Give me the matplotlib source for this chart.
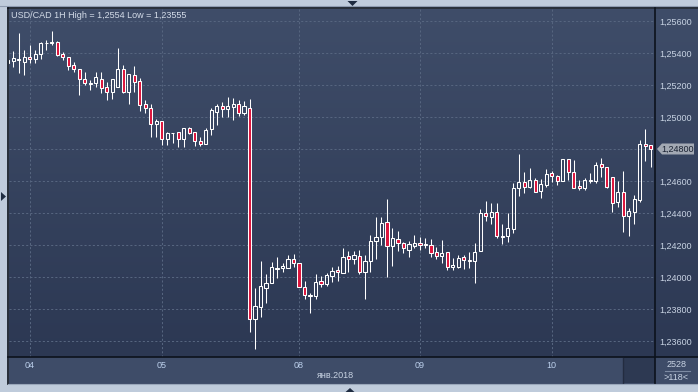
import numpy as np
import matplotlib
matplotlib.use("Agg")
import matplotlib.pyplot as plt
from matplotlib.transforms import Affine2D
from matplotlib.patches import Rectangle, Polygon
from matplotlib.lines import Line2D
from matplotlib.ticker import FuncFormatter

plt.rcParams['font.family'] = ['Liberation Sans', 'DejaVu Sans']

W, H = 698, 392

title = "USD/CAD 1H High = 1,2554 Low = 1,23555"

open_ = [1.25338, 1.2535, 1.25356, 1.25344, 1.25375, 1.25363, 1.25394, 1.2546, 1.25463, 1.25469,
         1.25394, 1.25375, 1.25325, 1.253, 1.25238, 1.25206, 1.25213, 1.25238, 1.25188, 1.25156,
         1.25188, 1.253, 1.25156, 1.25263, 1.25225, 1.25081, 1.25056, 1.24956, 1.24975, 1.24863,
         1.24897, 1.24906, 1.24863, 1.24931, 1.24906, 1.2485, 1.24831, 1.24925, 1.25031, 1.25069,
         1.2505, 1.25063, 1.25081, 1.25025, 1.25056, 1.23738, 1.23813, 1.23931, 1.23963, 1.24053,
         1.24056, 1.24056, 1.24113, 1.24088, 1.23938, 1.23884, 1.23881, 1.23975, 1.23956, 1.24006,
         1.24044, 1.24025, 1.24131, 1.24113, 1.24131, 1.24031, 1.241, 1.24225, 1.2425, 1.24344,
         1.24194, 1.24238, 1.24213, 1.24169, 1.24194, 1.24213, 1.24203, 1.242, 1.24156, 1.24131,
         1.24156, 1.24063, 1.24063, 1.24125, 1.24103, 1.241, 1.24163, 1.244, 1.24375, 1.24406,
         1.24253, 1.24256, 1.243, 1.24556, 1.24594, 1.24563, 1.24606, 1.24538, 1.24575, 1.2465,
         1.24631, 1.246, 1.24738, 1.24656, 1.24569, 1.24556, 1.24603, 1.246, 1.24706, 1.24688,
         1.24625, 1.24469, 1.24531, 1.24381, 1.24406, 1.24481, 1.24831, 1.24825]

close = [1.25356, 1.25369, 1.25363, 1.25375, 1.25363, 1.25394, 1.25463, 1.25463, 1.25469, 1.25388,
         1.25375, 1.25319, 1.253, 1.25238, 1.25213, 1.2521, 1.2525, 1.25181, 1.25156, 1.25238,
         1.253, 1.25156, 1.25269, 1.25219, 1.25075, 1.25056, 1.24956, 1.24975, 1.24863, 1.249,
         1.249, 1.24863, 1.24931, 1.249, 1.2485, 1.24831, 1.24919, 1.25044, 1.25069, 1.2505,
         1.25069, 1.25081, 1.25025, 1.25069, 1.23738, 1.23819, 1.23944, 1.23963, 1.24063, 1.24056,
         1.24069, 1.24113, 1.24088, 1.23938, 1.23888, 1.23888, 1.23969, 1.23956, 1.24013, 1.24038,
         1.24031, 1.24125, 1.24113, 1.24138, 1.24031, 1.241, 1.24225, 1.2425, 1.24338, 1.24194,
         1.24244, 1.24213, 1.24181, 1.24206, 1.24213, 1.242, 1.24206, 1.2415, 1.24131, 1.2415,
         1.24063, 1.24075, 1.24119, 1.24106, 1.24106, 1.24156, 1.244, 1.24381, 1.24406, 1.24256,
         1.24256, 1.24306, 1.24556, 1.24594, 1.24563, 1.24606, 1.24531, 1.24581, 1.24644, 1.24631,
         1.246, 1.24738, 1.24656, 1.24556, 1.24556, 1.24606, 1.24606, 1.247, 1.24688, 1.24563,
         1.24463, 1.24531, 1.24381, 1.24413, 1.24488, 1.24831, 1.24819, 1.248]

high = [1.25369, 1.25413, 1.25525, 1.25419, 1.2545, 1.25419, 1.25469, 1.25481, 1.2554, 1.25475,
        1.25406, 1.25375, 1.25344, 1.253, 1.25281, 1.25231, 1.25281, 1.25281, 1.25219, 1.25238,
        1.25431, 1.25325, 1.25269, 1.25319, 1.25244, 1.25106, 1.25081, 1.24988, 1.24975, 1.24906,
        1.249, 1.24906, 1.24931, 1.24938, 1.24906, 1.24875, 1.24931, 1.25056, 1.25081, 1.25094,
        1.25125, 1.25119, 1.25106, 1.251, 1.25113, 1.23931, 1.241, 1.24019, 1.24094, 1.24125,
        1.24088, 1.24138, 1.24144, 1.24088, 1.23975, 1.239, 1.24019, 1.24006, 1.24025, 1.24063,
        1.24069, 1.24181, 1.24163, 1.24163, 1.24169, 1.24138, 1.24263, 1.24375, 1.24375, 1.24488,
        1.24306, 1.24288, 1.24219, 1.24225, 1.24263, 1.2425, 1.24244, 1.24238, 1.24188, 1.24231,
        1.24156, 1.24119, 1.24138, 1.24138, 1.24156, 1.24213, 1.24425, 1.24475, 1.24463, 1.24463,
        1.24331, 1.244, 1.24588, 1.24769, 1.24656, 1.24681, 1.24619, 1.24613, 1.24675, 1.24663,
        1.24638, 1.24738, 1.24738, 1.24731, 1.24606, 1.24619, 1.2465, 1.24719, 1.24744, 1.24688,
        1.24625, 1.246, 1.24663, 1.24431, 1.24513, 1.24856, 1.24925, 1.24825]

low = [1.25325, 1.25313, 1.25275, 1.25263, 1.25338, 1.25338, 1.25363, 1.25419, 1.2545, 1.25381,
       1.25356, 1.25294, 1.25281, 1.25138, 1.252, 1.25169, 1.25188, 1.2515, 1.25106, 1.25113,
       1.25188, 1.2515, 1.25081, 1.25156, 1.25038, 1.25025, 1.24875, 1.24875, 1.24825, 1.24825,
       1.24838, 1.24813, 1.24813, 1.24894, 1.24819, 1.24819, 1.24831, 1.24888, 1.2495, 1.25,
       1.25, 1.24981, 1.25006, 1.25013, 1.23656, 1.2355, 1.2375, 1.23838, 1.23963, 1.23994,
       1.24031, 1.24056, 1.24063, 1.23938, 1.23863, 1.23775, 1.23863, 1.23938, 1.23944, 1.23969,
       1.23975, 1.24025, 1.24031, 1.24081, 1.24019, 1.23863, 1.24031, 1.24113, 1.242, 1.24,
       1.24069, 1.24163, 1.2415, 1.24125, 1.24181, 1.24169, 1.24181, 1.24125, 1.24113, 1.24088,
       1.24044, 1.24044, 1.24056, 1.2405, 1.24056, 1.23963, 1.24163, 1.2435, 1.24331, 1.24244,
       1.24206, 1.24219, 1.24275, 1.24506, 1.24525, 1.24556, 1.24531, 1.24494, 1.24563, 1.24594,
       1.24575, 1.246, 1.24606, 1.24556, 1.24544, 1.24544, 1.24588, 1.24588, 1.24625, 1.24556,
       1.24406, 1.24438, 1.24281, 1.24256, 1.24331, 1.24469, 1.24725, 1.24688]

day_labels = ["04", "05", "08", "09", "10"]
day_positions = [4, 28, 53, 75, 99]
price_ticks = [1.236, 1.238, 1.240, 1.242, 1.244, 1.246, 1.248, 1.250, 1.252, 1.254, 1.256]
month_label = "янв.2018"
bars_total = "2528"
bars_visible = ">118<"

# ---------------------------------------------------------------
fig = plt.figure(figsize=(W / 100, H / 100), dpi=100, facecolor="#bfcbdb")
pix = Affine2D().scale(1 / W, -1 / H).translate(0, 1) + fig.transFigure


def fax(x0, y0, x1, y1):
    return [x0 / W, 1 - y1 / H, (x1 - x0) / W, (y1 - y0) / H]


# bottom date bar (drawn below the axes so tick labels stay visible)
fig.patches.append(Rectangle((8.5, 357), 698 - 8.5, 384 - 357, transform=pix,
                             facecolor="#3e4c68", edgecolor="none", zorder=-2))
fig.patches.append(Rectangle((623.5, 357.5), 655 - 623.5, 383.5 - 357.5, transform=pix,
                             facecolor="#2d3952", edgecolor="none", zorder=-1.5))
fig.lines.append(Line2D([623, 623], [358, 383.5], transform=pix, color="#232c40", lw=1,
                        zorder=-1))

# gradient background for plot + price scale
bg = fig.add_axes(fax(8.5, 8.5, 698, 357))
bg.set_zorder(-1)
top_c = np.array([0x3f, 0x4d, 0x69]) / 255
bot_c = np.array([0x2c, 0x38, 0x53]) / 255
t = np.linspace(0, 1, 256)[:, None, None]
grad = top_c[None, None, :] * (1 - t) + bot_c[None, None, :] * t
bg.imshow(grad, aspect="auto", extent=[0, 1, 0, 1], interpolation="bilinear")
bg.set_axis_off()

ax = fig.add_axes(fax(8.5, 8.5, 655, 357))
ax.patch.set_alpha(0)
ax.set_xlim(0.127, 117.78)
ax.set_ylim(1.2350, 1.25678)

o = np.array(open_)
c = np.array(close)
hi = np.array(high)
lo = np.array(low)
x = np.arange(len(o))
btop = np.maximum(o, c)
bbot = np.minimum(o, c)
bull = c >= o

ax.vlines(x, btop, hi, color="white", lw=0.75, zorder=3)
ax.vlines(x, lo, bbot, color="white", lw=0.75, zorder=3)
faces = ["none" if b else "#dc143c" for b in bull]
ax.bar(x, btop - bbot, bottom=bbot, width=0.58, color=faces, edgecolor="white",
       linewidth=0.75, zorder=4)

last = close[-1]


def price_fmt(v, p):
    if abs(v - round(last, 3)) < 1e-7:
        return ""  # hidden under the last-price marker
    return f"{v:.5f}".replace(".", ",")


ax.set_yticks(price_ticks)
ax.set_xticks(day_positions)
ax.set_xticklabels(day_labels)
ax.yaxis.set_major_formatter(FuncFormatter(price_fmt))
ax.yaxis.tick_right()
ax.tick_params(axis="y", length=0, pad=3, labelsize=6.5, labelcolor="#c8d3e3")
ax.tick_params(axis="x", length=0, pad=3.2, labelsize=6.5, labelcolor="#bcd0ec")
ax.grid(True, color="#56657f", lw=0.75, linestyle=(0, (2, 2)), zorder=1)
ax.set_axisbelow(True)
for s in ax.spines.values():
    s.set_visible(False)

# title
fig.text(11, 15, title, transform=pix, ha="left", va="center", fontsize=6.5, color="#d4dce8")

# frame lines
fig.lines.append(Line2D([0, 698], [6.5, 6.5], transform=pix, color="#8e9bb0", lw=0.8))
fig.lines.append(Line2D([8, 698], [8, 8], transform=pix, color="#0c121c", lw=1.2))
fig.lines.append(Line2D([8, 8], [8, 384], transform=pix, color="#0c121c", lw=1.2))
fig.lines.append(Line2D([8, 698], [357, 357], transform=pix, color="#0c121c", lw=1.2))
fig.lines.append(Line2D([655, 655], [8, 384], transform=pix, color="#0c121c", lw=1.2))
fig.lines.append(Line2D([8, 698], [384, 384], transform=pix, color="#9aa7ba", lw=0.8))

# month label and bar counts
fig.text(335, 376, month_label, transform=pix, ha="center", va="center", fontsize=6.5,
         color="#c8d3e3")
fig.text(677, 364.5, bars_total, transform=pix, ha="center", va="center", fontsize=6.5,
         color="#c8d3e3")
fig.lines.append(Line2D([665, 690], [371.5, 371.5], transform=pix, color="#7d8ba3", lw=0.8))
fig.text(676.5, 377.5, bars_visible, transform=pix, ha="center", va="center", fontsize=6.5,
         color="#c8d3e3")

# last price marker
disp = ax.transData.transform((0, last))
py = pix.inverted().transform(disp)[1]
fig.patches.append(Polygon([(657, py), (662, py - 5.5), (694, py - 5.5), (694, py + 5.5),
                            (662, py + 5.5)], closed=True, transform=pix,
                           facecolor="#a3a9b3", edgecolor="none", zorder=5))
fig.text(677.5, py + 0.3, f"{last:.5f}".replace(".", ","), transform=pix, ha="center",
         va="center", fontsize=6.5, color="#1a2232", zorder=6)

# navigation triangles
for pts in ([(347.5, 1), (357.5, 1), (352.5, 6)],
            [(1, 192), (1, 201), (6, 196.5)],
            [(345, 392.5), (355, 392.5), (350, 388)]):
    fig.patches.append(Polygon(pts, closed=True, transform=pix, facecolor="#1e2b40",
                               edgecolor="none", zorder=5))

fig.savefig("out.png", dpi=100, facecolor=fig.get_facecolor())
